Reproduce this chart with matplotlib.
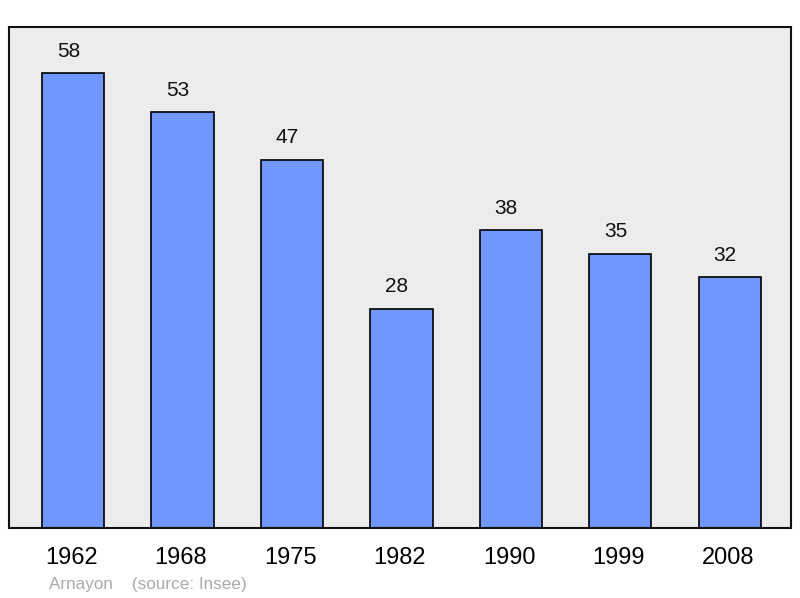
import matplotlib
matplotlib.use("Agg")
import matplotlib.pyplot as plt

years = ["1962", "1968", "1975", "1982", "1990", "1999", "2008"]
population = [58, 53, 47, 28, 38, 35, 32]

plt.rcParams['font.family'] = ['Liberation Sans', 'DejaVu Sans']

fig = plt.figure(figsize=(8, 5.98), dpi=100)
ax = fig.add_axes([0.01125, 0.117, 0.9775, 0.8378])
ax.set_facecolor("#ececec")

x = range(len(years))
ax.bar(x, population, width=0.57, color="#7096ff", edgecolor="black", linewidth=1.2, zorder=2)

# valeurs au-dessus des barres (légèrement décalées à gauche comme l'original)
for i, v in enumerate(population):
    ax.annotate(str(v), (i, v), xytext=(-4.5, 22), textcoords="offset pixels",
                ha="center", va="center", fontsize=15, color="#111111")

ax.set_xlim(-0.585, 6.56)
ax.set_ylim(0, 63.9)
ax.set_yticks([])
ax.set_xticks([i - 0.014 for i in x])
ax.set_xticklabels(years, fontsize=17)
ax.tick_params(axis="x", length=0, pad=13.5)
for s in ax.spines.values():
    s.set_linewidth(1.5)
    s.set_color("#111111")

fig.text(49 / 800, 1 - 584 / 598, "Arnayon    (source: Insee)", fontsize=12.3,
         color="#aaaaaa", ha="left", va="center")

fig.savefig("out.png", dpi=100)
